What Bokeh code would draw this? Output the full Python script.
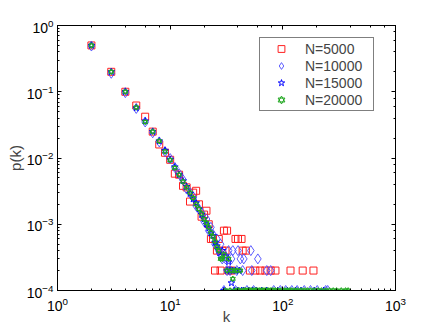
from bokeh.plotting import figure
from bokeh.models import LogAxis, Legend, LegendItem, ColumnDataSource
from bokeh.embed import file_html
from bokeh.resources import INLINE

series_names = ["N=5000", "N=10000", "N=15000", "N=20000"]

k_5000 = [2, 3, 4, 5, 6, 7, 8, 9, 10, 11, 12, 13, 14, 15, 16, 17, 18, 19, 20, 21,
          22, 23, 24, 25, 26, 27, 28, 29, 30, 31, 32, 33, 35, 38, 40, 43, 44, 47,
          51, 57, 63, 70, 78, 86, 117, 150, 187]
p_5000 = [0.50, 0.20, 0.10, 0.062, 0.042, 0.025, 0.016, 0.012, 0.0094, 0.0058,
          0.0056, 0.0038, 0.0036, 0.0022, 0.0030, 0.0032, 0.0020, 0.0013, 0.0014, 0.0016,
          0.0010, 0.0006, 0.0006, 0.0002, 0.0004, 0.0006, 0.0002, 0.0004, 0.0008, 0.0004,
          0.0008, 0.0002, 0.0002, 0.0006, 0.0006, 0.0006, 0.0004, 0.0004,
          0.0002, 0.0002, 0.0002, 0.0002, 0.0002, 0.0002, 0.0002, 0.0002, 0.0002]

k_10000 = [2, 3, 4, 5, 6, 7, 8, 9, 10, 11, 12, 13, 14, 15, 16, 17, 18, 19, 20, 21,
           22, 23, 24, 25, 26, 27, 28, 29, 30, 31, 32, 33, 34, 35, 36, 38, 39, 40,
           42, 44, 45, 48, 52, 53, 55, 60, 72, 78, 83, 95, 106, 120, 134, 155, 176,
           202, 240, 250]
p_10000 = [0.49, 0.19, 0.097, 0.056, 0.035, 0.024, 0.0175, 0.0125, 0.0098, 0.0072,
           0.0058, 0.0047, 0.0034, 0.0030, 0.0026, 0.0019, 0.0017, 0.0015, 0.0011, 0.0012,
           0.0008, 0.0009, 0.0007, 0.0005, 0.0006, 0.0004, 0.0005, 0.0003, 0.0001, 0.0003,
           0.0002, 0.0004, 0.0002, 0.0003, 0.0004, 0.0001, 0.0002, 0.0004,
           0.0003, 0.0002, 0.0003, 0.0001, 0.0004, 0.0002, 0.0001, 0.0003, 0.0002, 0.0002,
           0.0001, 0.0001, 0.0001, 0.0001, 0.0001, 0.0001, 0.0001, 0.0001, 0.0001, 0.0001]

k_15000 = [2, 3, 4, 5, 6, 7, 8, 9, 10, 11, 12, 13, 14, 15, 16, 17, 18, 19, 20, 21,
           22, 23, 24, 25, 26, 27, 28, 29, 30, 31, 32, 33, 34, 35, 36, 37, 38, 40,
           41, 43, 45, 50, 54, 58, 65, 72, 90, 110, 130, 145, 190, 230]
p_15000 = [0.50, 0.20, 0.10, 0.057, 0.036, 0.025, 0.018, 0.013, 0.0095, 0.0073,
           0.0056, 0.0045, 0.0037, 0.0029, 0.0024, 0.0021, 0.0017, 0.0014, 0.0012, 0.0010,
           0.00087, 0.00073, 0.00067, 0.00053, 0.00047, 0.00040, 0.00033, 0.00040, 0.0001, 0.00033,
           0.00020, 0.00027, 0.00020, 0.00013, 0.00020, 0.0001, 0.0002, 0.0001,
           0.0002, 0.0001, 0.0001, 0.0001, 0.0001, 0.0001, 0.0001, 0.0001, 0.0001, 0.0001,
           0.0001, 0.0001, 0.0001, 0.0001]

k_20000 = [2, 3, 4, 5, 6, 7, 8, 9, 10, 11, 12, 13, 14, 15, 16, 17, 18, 19, 20, 21,
           22, 23, 24, 25, 26, 27, 28, 29, 30, 31, 32, 33, 34, 35, 36, 37, 38, 39,
           40, 41, 42, 44, 46, 47, 49, 50, 52, 53, 55, 57, 58, 60, 62, 64, 66, 68,
           70, 73, 75, 78, 80, 83, 86, 90, 95, 100, 105, 110, 115, 120, 128, 135,
           145, 155, 165, 176, 190, 205, 220, 240, 260, 280, 300, 330, 360, 380]
p_20000 = [0.50, 0.20, 0.10, 0.058, 0.035, 0.025, 0.018, 0.0125, 0.0093, 0.0071,
           0.0056, 0.0044, 0.0036, 0.0030, 0.0025, 0.0020, 0.0017, 0.00145, 0.0012, 0.00105,
           0.0009, 0.00075, 0.00065, 0.00055, 0.00045, 0.0004, 0.0003, 0.0003, 0.00035, 0.0001,
           0.0002, 0.0003, 0.0001, 0.0002, 0.00015, 0.0002, 0.0001, 0.0002,
           0.0001, 0.0001, 0.0002, 0.0001, 0.0001, 0.0001, 0.0001, 0.0001, 0.0001, 0.0001,
           0.0001, 0.0001, 0.0001, 0.0001, 0.0001, 0.0001, 0.0001, 0.0001,
           0.0001, 0.0001, 0.0001, 0.0001, 0.0001, 0.0001, 0.0001, 0.0001, 0.0001, 0.0001,
           0.0001, 0.0001, 0.0001, 0.0001, 0.0001, 0.0001,
           0.0001, 0.0001, 0.0001, 0.0001, 0.0001, 0.0001, 0.0001, 0.0001, 0.0001, 0.0001,
           0.0001, 0.0001, 0.0001, 0.0001]

x_label = "k"
y_label = "p(k)"

FONT = "Liberation Sans"

p = figure(width=436, height=327, x_axis_type="log", y_axis_type="log",
           x_range=(1, 1000), y_range=(1e-4, 1),
           output_backend="svg", toolbar_location=None,
           min_border_left=57, min_border_top=25, min_border_right=41, min_border_bottom=35)

p.xgrid.visible = False
p.ygrid.visible = False
p.outline_line_color = "black"
p.background_fill_color = "white"
p.border_fill_color = "white"

def style_axis(ax, labels=True):
    ax.axis_line_color = "black"
    ax.major_tick_line_color = "black"
    ax.minor_tick_line_color = "black"
    ax.major_tick_in = 4
    ax.major_tick_out = 0
    ax.minor_tick_in = 2
    ax.minor_tick_out = 0
    if labels:
        ax.major_label_text_font = FONT
        ax.major_label_text_font_size = "14px"
        ax.major_label_text_color = "black"
    else:
        ax.major_label_text_font_size = "2px"
        ax.major_label_text_alpha = 0
        ax.major_label_standoff = 0

xa = p.xaxis[0]
style_axis(xa)
xa.major_label_standoff = 6
xa.axis_label = x_label
xa.axis_label_text_font = FONT
xa.axis_label_text_font_size = "15px"
xa.axis_label_text_font_style = "normal"
xa.axis_label_standoff = -6

ya = p.yaxis[0]
style_axis(ya)
ya.major_label_standoff = 4
ya.axis_label = y_label
ya.axis_label_text_font = FONT
ya.axis_label_text_font_size = "15px"
ya.axis_label_text_font_style = "normal"
ya.axis_label_standoff = 0

top_ax = LogAxis()
style_axis(top_ax, labels=False)
p.add_layout(top_ax, "above")
right_ax = LogAxis()
style_axis(right_ax, labels=False)
p.add_layout(right_ax, "right")

src5 = ColumnDataSource(dict(k=k_5000, p=p_5000))
src10 = ColumnDataSource(dict(k=k_10000, p=p_10000))
src15 = ColumnDataSource(dict(k=k_15000, p=p_15000))
src20 = ColumnDataSource(dict(k=k_20000, p=p_20000))

r5 = p.scatter("k", "p", source=src5, marker="square", size=7,
               fill_color=None, line_color="#ff2020", line_width=1)
r10 = p.scatter("k", "p", source=src10, marker="diamond", size=10,
                fill_color=None, line_color="#4a4aff", line_width=0.9)
r15 = p.scatter("k", "p", source=src15, marker="star", size=7,
                fill_color=None, line_color="#0000ff", line_width=1)
# hexagram drawn as two overlapping triangles
r20a = p.scatter("k", "p", source=src20, marker="triangle", size=5,
                 fill_color=None, line_color="#22a822", line_width=1)
r20b = p.scatter("k", "p", source=src20, marker="inverted_triangle", size=5,
                 fill_color=None, line_color="#22a822", line_width=1)

legend = Legend(items=[LegendItem(label=series_names[0], renderers=[r5]),
                       LegendItem(label=series_names[1], renderers=[r10]),
                       LegendItem(label=series_names[2], renderers=[r15]),
                       LegendItem(label=series_names[3], renderers=[r20a, r20b])],
                location=(202, 179))
legend.label_text_font = FONT
legend.label_text_font_size = "14px"
legend.label_height = 17
legend.glyph_height = 17
legend.glyph_width = 38
legend.label_standoff = 5
legend.label_width = 66
legend.padding = 2
legend.spacing = 0
legend.margin = 0
legend.border_line_color = "black"
legend.border_line_width = 1
legend.background_fill_color = "white"
legend.background_fill_alpha = 1
p.add_layout(legend, "center")

open("out.html", "w").write(file_html(p, INLINE))
